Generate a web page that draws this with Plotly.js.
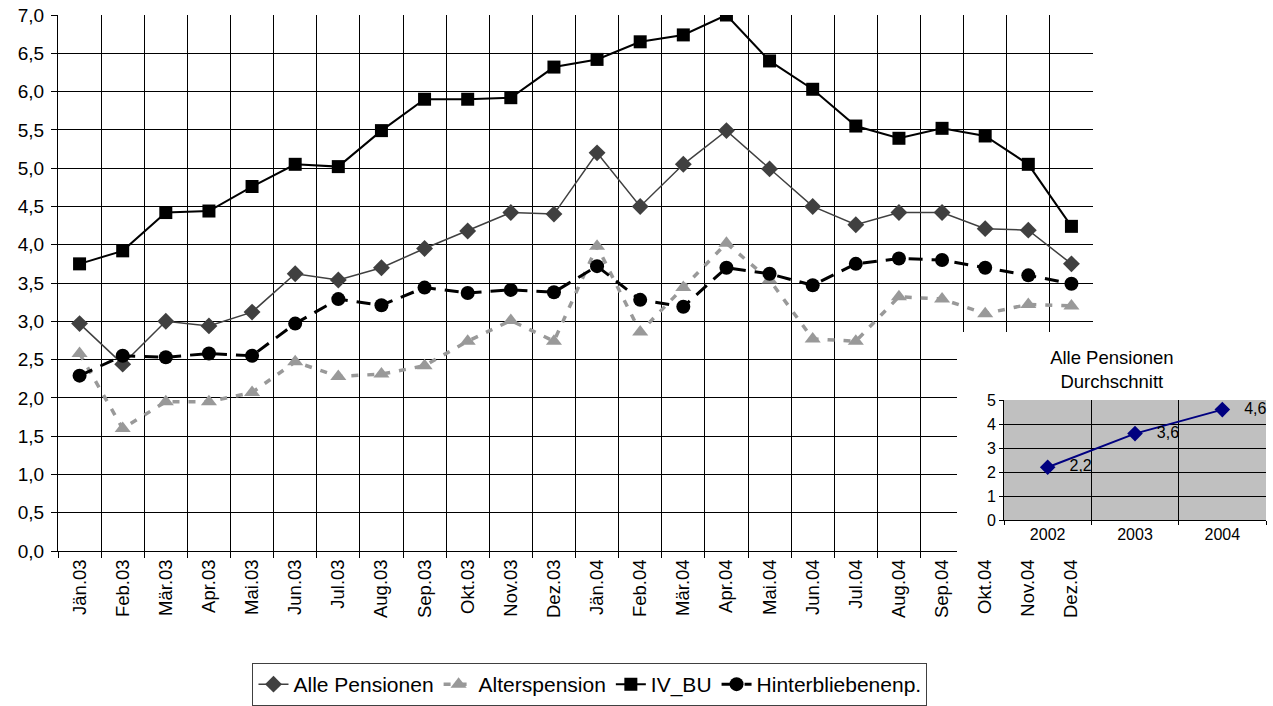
<!DOCTYPE html>
<html>
<head>
<meta charset="utf-8">
<script src="https://cdn.plot.ly/plotly-3.0.1.min.js"></script>
<style>
  html, body { margin: 0; padding: 0; background: #fff; }
  #wrap { position: relative; width: 1273px; height: 706px; overflow: hidden; }
  #main { position: absolute; left: 0; top: 0; }
  #inset { position: absolute; left: 957px; top: 332px; }
</style>
</head>
<body>
<div id="wrap">
  <div id="main"></div>
  <div id="inset"></div>
</div>
<script>
// ---- data ----
const months = ['Jän.03','Feb.03','Mär.03','Apr.03','Mai.03','Jun.03','Jul.03','Aug.03','Sep.03','Okt.03','Nov.03','Dez.03',
                'Jän.04','Feb.04','Mär.04','Apr.04','Mai.04','Jun.04','Jul.04','Aug.04','Sep.04','Okt.04','Nov.04','Dez.04'];
const allePensionen   = [2.97, 2.44, 3.00, 2.94, 3.12, 3.62, 3.54, 3.70, 3.95, 4.18, 4.42, 4.40,
                         5.20, 4.50, 5.05, 5.49, 4.99, 4.50, 4.26, 4.42, 4.42, 4.21, 4.19, 3.75];
const alterspension   = [2.58, 1.60, 1.95, 1.95, 2.07, 2.47, 2.28, 2.31, 2.42, 2.74, 3.01, 2.74,
                         3.98, 2.86, 3.44, 4.02, 3.54, 2.77, 2.74, 3.32, 3.29, 3.10, 3.22, 3.20];
const ivBu            = [3.75, 3.92, 4.42, 4.44, 4.76, 5.05, 5.02, 5.49, 5.90, 5.90, 5.92, 6.32,
                         6.42, 6.65, 6.74, 7.00, 6.40, 6.03, 5.55, 5.39, 5.52, 5.42, 5.05, 4.24];
const hinterbliebenen = [2.29, 2.55, 2.53, 2.58, 2.55, 2.97, 3.29, 3.21, 3.44, 3.37, 3.41, 3.38,
                         3.72, 3.28, 3.19, 3.70, 3.62, 3.47, 3.75, 3.82, 3.80, 3.70, 3.60, 3.49];
const seriesNames = ['Alle Pensionen', 'Alterspension', 'IV_BU', 'Hinterbliebenenp.'];

const insetYears  = ['2002', '2003', '2004'];
const insetValues = [2.2, 3.6, 4.6];
const insetTitle  = 'Alle Pensionen<br>Durchschnitt';

// ---- main chart ----
const FONT = 'Liberation Sans, Arial, sans-serif';

const traces = [
  { x: months, y: allePensionen, name: seriesNames[0], type: 'scatter', mode: 'lines+markers',
    line: { color: '#404040', width: 1.5 },
    marker: { symbol: 'diamond', size: 13, color: '#404040' } },
  { x: months, y: alterspension, name: seriesNames[1], type: 'scatter', mode: 'lines+markers',
    line: { color: '#999999', width: 3.5, dash: '7px,9px' },
    marker: { symbol: 'triangle-up', size: 14, color: '#999999' } },
  { x: months, y: ivBu, name: seriesNames[2], type: 'scatter', mode: 'lines+markers',
    line: { color: '#000000', width: 2 },
    marker: { symbol: 'square', size: 13, color: '#000000' } },
  { x: months, y: hinterbliebenen, name: seriesNames[3], type: 'scatter', mode: 'lines+markers',
    line: { color: '#000000', width: 3, dash: '14px,9px' },
    marker: { symbol: 'circle', size: 14, color: '#000000' } }
];

const layout = {
  width: 1273, height: 706,
  margin: { l: 58, r: 180, t: 15, b: 155, autoexpand: false },
  paper_bgcolor: 'rgba(0,0,0,0)', plot_bgcolor: 'white',
  separators: ',.',
  font: { family: FONT, color: '#000' },
  showlegend: true,
  legend: {
    orientation: 'h', x: 0.514, xanchor: 'center', y: -0.209, yanchor: 'top',
    bordercolor: '#404040', borderwidth: 1, bgcolor: 'white',
    font: { family: FONT, size: 21, color: '#000' },
    traceorder: 'normal'
  },
  xaxis: {
    type: 'category', range: [-0.5, 23.5], tickson: 'boundaries',
    showgrid: true, gridcolor: '#000', gridwidth: 1,
    ticks: 'outside', ticklen: 6, tickcolor: '#000',
    tickangle: -90, tickfont: { family: FONT, size: 18.5, color: '#000' },
    showline: true, linecolor: '#000', linewidth: 1, zeroline: false, fixedrange: true
  },
  yaxis: {
    range: [0, 7], tick0: 0, dtick: 0.5, tickformat: '.1f',
    showgrid: true, gridcolor: '#000', gridwidth: 1,
    ticks: 'outside', ticklen: 6, tickcolor: '#000', ticklabelstandoff: 3,
    tickfont: { family: FONT, size: 19, color: '#000' },
    showline: true, linecolor: '#000', linewidth: 1, zeroline: false, fixedrange: true
  }
};

Plotly.newPlot('main', traces, layout, { displayModeBar: false, staticPlot: true });

// ---- inset chart ----
const insetTrace = {
  x: insetYears, y: insetValues, type: 'scatter', mode: 'lines+markers+text',
  line: { color: '#000080', width: 2 },
  marker: { symbol: 'diamond', size: 12, color: '#000080' },
  texttemplate: '   %{y:.1f}', textposition: 'middle right',
  textfont: { family: FONT, size: 16, color: '#000' },
  cliponaxis: false
};

const insetLayout = {
  width: 316, height: 228,
  margin: { l: 47, r: 7, t: 68, b: 40, autoexpand: false },
  paper_bgcolor: 'white', plot_bgcolor: '#c0c0c0',
  separators: ',.',
  font: { family: FONT, color: '#000' },
  showlegend: false,
  title: {
    text: insetTitle, font: { family: FONT, size: 18.5, color: '#000' },
    x: 0.49, xanchor: 'center', xref: 'container',
    y: 0.86, yanchor: 'top', yref: 'container'
  },
  xaxis: {
    type: 'category', range: [-0.5, 2.5], tickson: 'boundaries',
    showgrid: true, gridcolor: '#000', gridwidth: 1,
    ticks: 'outside', ticklen: 4, tickcolor: '#000',
    tickfont: { family: FONT, size: 16, color: '#000' },
    showline: true, linecolor: '#000', zeroline: false, fixedrange: true
  },
  yaxis: {
    range: [0, 5], tick0: 0, dtick: 1,
    showgrid: true, gridcolor: '#000', gridwidth: 1,
    ticks: 'outside', ticklen: 4, tickcolor: '#000',
    tickfont: { family: FONT, size: 16, color: '#000' },
    showline: true, linecolor: '#000', zeroline: false, fixedrange: true
  }
};

Plotly.newPlot('inset', [insetTrace], insetLayout, { displayModeBar: false, staticPlot: true });
</script>
</body>
</html>
